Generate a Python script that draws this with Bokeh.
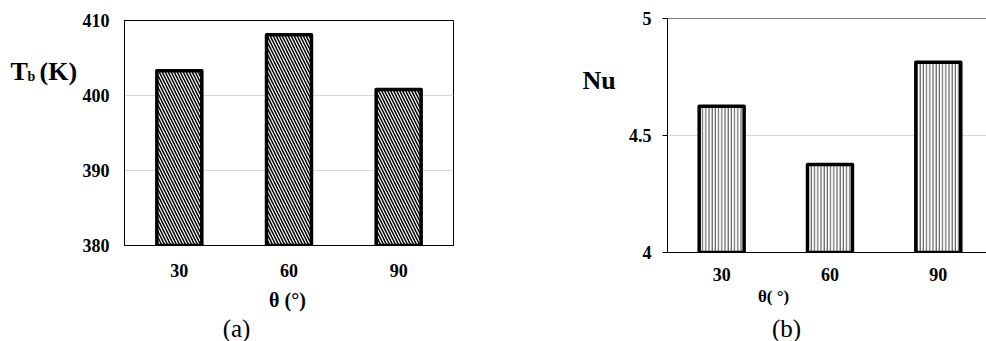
from bokeh.plotting import figure
from bokeh.layouts import row, column
from bokeh.models import Range1d, FixedTicker, Label, Span
from bokeh.embed import file_html
from bokeh.resources import INLINE

# ---- data ----
angles = ["30", "60", "90"]
tb_values = [403.3, 408.1, 400.8]
nu_values = [4.625, 4.376, 4.813]
tb_ticks = [380, 390, 400, 410]
nu_ticks = [4, 4.5, 5]

FONT = "Liberation Serif"

def style_axes(p):
    for ax in (p.xaxis[0], p.yaxis[0]):
        ax.major_label_text_font = FONT
        ax.major_label_text_font_style = "bold"
        ax.major_label_text_font_size = "18px"
        ax.major_label_text_color = "black"
        ax.axis_line_color = "black"
        ax.minor_tick_line_color = None
        ax.minor_tick_out = 0
        ax.minor_tick_in = 0
    p.xaxis.major_tick_line_color = None
    p.xgrid.grid_line_color = None
    p.ygrid.grid_line_color = "#d9d9d9"
    p.ygrid.grid_line_width = 1
    p.background_fill_color = "white"
    p.border_fill_color = "white"

def aux(w, h):
    f = figure(width=w, height=h, output_backend="svg", toolbar_location=None,
               x_range=Range1d(0, 1), y_range=Range1d(0, 1),
               x_axis_location=None, y_axis_location=None,
               min_border=0, min_border_left=0, min_border_right=0,
               min_border_top=0, min_border_bottom=0)
    f.grid.visible = False
    f.outline_line_color = None
    return f

def lab(p, x, y, text, size, bold=True, align="left"):
    p.add_layout(Label(x=x, y=y, x_units="screen", y_units="screen", text=text,
                       text_align=align, text_baseline="alphabetic",
                       text_font=FONT, text_font_style="bold" if bold else "normal",
                       text_font_size=size, text_color="black"))

xpos = [i + 0.5 for i in range(len(angles))]
xlabels = {x: a for x, a in zip(xpos, angles)}

# ---- panel (a) ----
pa = figure(width=449, height=280, output_backend="svg", toolbar_location=None,
            x_range=Range1d(0, 3), y_range=Range1d(380, 410),
            min_border_left=43, min_border_right=75, min_border_top=20, min_border_bottom=35)
pa.vbar(x=xpos, top=tb_values, bottom=380, width=0.41, fill_color="white",
        hatch_pattern="\\", hatch_scale=6, hatch_weight=1.5, hatch_color="black",
        line_color="black", line_width=3.5, line_join="round")
style_axes(pa)
pa.xaxis.ticker = FixedTicker(ticks=xpos)
pa.xaxis.major_label_overrides = xlabels
pa.xaxis.major_label_standoff = 12
pa.yaxis.ticker = FixedTicker(ticks=tb_ticks)
pa.yaxis.major_tick_line_color = None
pa.yaxis.major_tick_out = 0
pa.yaxis.major_tick_in = 0
pa.yaxis.major_label_standoff = 15
pa.ygrid.ticker = FixedTicker(ticks=[390, 400])
pa.outline_line_color = "black"
pa.outline_line_alpha = 1
pa.outline_line_width = 1

# la's frame is aligned with pa's frame (top 20, bottom 245)
la = aux(79, 280)
lab(la, 10, 174, "T", "26px")
lab(la, 27, 169, "b", "14px")
lab(la, 39, 174, "(K)", "26px")

ba = aux(528, 61)
lab(ba, 287, 42, "θ (°)", "20px", align="center")
lab(ba, 236, 13, "(a)", "25px", bold=False, align="center")

# ---- panel (b) ----
pb = figure(width=366, height=285, output_backend="svg", toolbar_location=None,
            x_range=Range1d(0, 2.945), y_range=Range1d(4, 5),
            min_border_left=47, min_border_right=0, min_border_top=18, min_border_bottom=33)
pb.vbar(x=xpos, top=nu_values, bottom=4, width=0.415, fill_color="white",
        hatch_pattern="|", hatch_scale=3.2, hatch_weight=1.1, hatch_color="#555555",
        line_color="black", line_width=3.5, line_join="round")
style_axes(pb)
pb.xaxis.ticker = FixedTicker(ticks=xpos)
pb.xaxis.major_label_overrides = xlabels
pb.xaxis.major_label_standoff = 9
pb.yaxis.ticker = FixedTicker(ticks=nu_ticks)
pb.yaxis.major_label_overrides = {4: "4", 4.5: "4.5", 5: "5"}
pb.yaxis.major_tick_in = 0
pb.yaxis.major_tick_out = 5
pb.yaxis.major_tick_line_color = "black"
pb.yaxis.major_label_standoff = 11
pb.ygrid.ticker = FixedTicker(ticks=[4.5])
pb.outline_line_color = None
pb.add_layout(Span(location=5, dimension="width", line_color="black", line_width=1))

# lb's frame is aligned with pb's frame (top 18, bottom 252)
lb = aux(92, 285)
lab(lb, 54, 172, "Nu", "26px")

bb = aux(458, 56)
lab(bb, 245, 45, "θ( °)", "17px", align="center")
lab(bb, 258, 13, "(b)", "25px", bold=False, align="center")

layout = row(column(row(la, pa), ba), column(row(lb, pb), bb))
open("out.html", "w").write(file_html(layout, INLINE))
